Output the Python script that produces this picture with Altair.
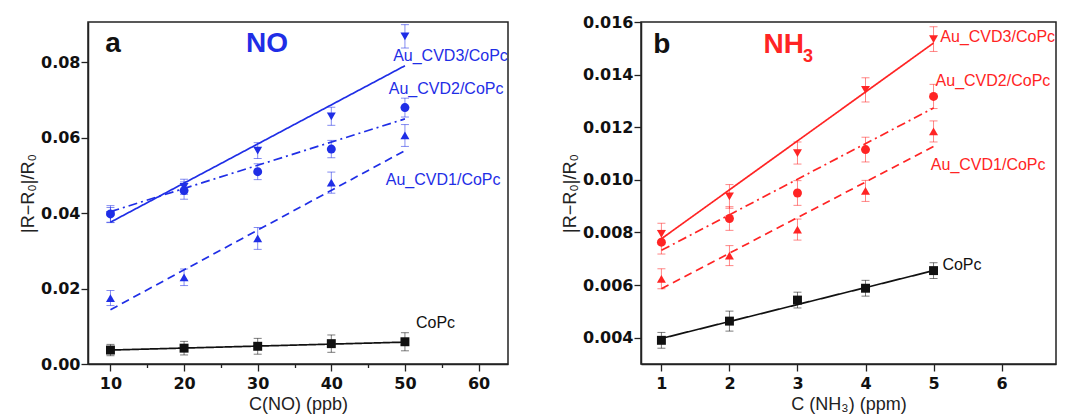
import altair as alt
import pandas as pd

SERIES = ["CoPc", "Au_CVD1/CoPc", "Au_CVD2/CoPc", "Au_CVD3/CoPc"]
SHAPES = ["square", "triangle-up", "circle", "triangle-down"]
DASHES = [[1, 0], [8, 5], [9, 4, 2, 4], [1, 0]]

# ---------------- panel a : NO ----------------
no_x = [10, 20, 30, 40, 50]
no_copc = [0.0037, 0.0042, 0.0047, 0.0054, 0.0059]
no_cvd1 = [0.0175, 0.0230, 0.0333, 0.0481, 0.0606]
no_cvd2 = [0.0398, 0.0460, 0.0510, 0.0570, 0.0680]
no_cvd3 = [0.0395, 0.0470, 0.0566, 0.0657, 0.0869]
no_copc_err = [0.0015, 0.0018, 0.0021, 0.0023, 0.0024]
no_cvd1_err = [0.0020, 0.0022, 0.0029, 0.0028, 0.0029]
no_cvd2_err = [0.0022, 0.0023, 0.0021, 0.0023, 0.0025]
no_cvd3_err = [0.0020, 0.0020, 0.0021, 0.0024, 0.0031]
no_fit_x = [10, 50]
no_fit_copc = [0.0037, 0.0058]
no_fit_cvd1 = [0.0144, 0.0566]
no_fit_cvd2 = [0.0404, 0.0650]
no_fit_cvd3 = [0.0376, 0.0791]
no_label_x = [51.5, 47.4, 47.8, 48.4]
no_label_y = [0.0110, 0.0489, 0.0728, 0.0816]
no_x_ticks = [10, 15, 20, 25, 30, 35, 40, 45, 50, 55, 60]
no_y_ticks = [0.0, 0.01, 0.02, 0.03, 0.04, 0.05, 0.06, 0.07, 0.08, 0.09]

# ---------------- panel b : NH3 ----------------
nh3_x = [1, 2, 3, 4, 5]
nh3_copc = [0.00390, 0.00463, 0.00543, 0.00588, 0.00655]
nh3_cvd1 = [0.00624, 0.00712, 0.00811, 0.00958, 0.01184]
nh3_cvd2 = [0.00763, 0.00853, 0.00950, 0.01115, 0.01317]
nh3_cvd3 = [0.00795, 0.00937, 0.01102, 0.01342, 0.01535]
nh3_copc_err = [0.00030, 0.00038, 0.00030, 0.00030, 0.00030]
nh3_cvd1_err = [0.00038, 0.00038, 0.00040, 0.00040, 0.00040]
nh3_cvd2_err = [0.00045, 0.00045, 0.00047, 0.00047, 0.00046]
nh3_cvd3_err = [0.00040, 0.00045, 0.00042, 0.00046, 0.00047]
nh3_fit_x = [1, 5]
nh3_fit_copc = [0.00397, 0.00655]
nh3_fit_cvd1 = [0.00586, 0.01127]
nh3_fit_cvd2 = [0.00732, 0.01273]
nh3_fit_cvd3 = [0.00776, 0.01520]
nh3_label_x = [5.13, 4.96, 5.03, 5.10]
nh3_label_y = [0.00677, 0.01055, 0.01374, 0.01544]
nh3_x_ticks = [1, 1.5, 2, 2.5, 3, 3.5, 4, 4.5, 5, 5.5, 6, 6.5]
nh3_y_ticks = [0.004, 0.005, 0.006, 0.007, 0.008, 0.009, 0.010,
               0.011, 0.012, 0.013, 0.014, 0.015, 0.016]

BLUE = "#1f2ee6"
RED = "#ff2424"
BLACK = "#111111"


def build(xs, ys, errs, fit_x, fits, lab_x, lab_y):
    pts, fl, lb = [], [], []
    for s, yv, ev, fv, lx, ly in zip(SERIES, ys, errs, fits, lab_x, lab_y):
        for x, y, e in zip(xs, yv, ev):
            pts.append({"series": s, "x": x, "y": y, "lo": y - e, "hi": y + e})
        for x, y in zip(fit_x, fv):
            fl.append({"series": s, "x": x, "y": y})
        lb.append({"series": s, "x": lx, "y": ly, "text": s})
    return pd.DataFrame(pts), pd.DataFrame(fl), pd.DataFrame(lb)


def panel(xs, ys, errs, fit_x, fits, lab_x, lab_y, color, xdom, ydom,
          xticks, yticks, xmajor, ymajor, xfmt, yfmt, xtitle, letter, letter_xy,
          gas, gas_xy, sub, sub_xy):
    dpts, dfit, dlab = build(xs, ys, errs, fit_x, fits, lab_x, lab_y)
    cscale = alt.Scale(domain=SERIES, range=[BLACK, color, color, color])
    xs_ = alt.Scale(domain=xdom, nice=False, zero=False)
    ys_ = alt.Scale(domain=ydom, nice=False, zero=False)
    xaxis = alt.Axis(values=xticks, title=xtitle, format=xfmt, labelOverlap=False,
                     tickSize={"condition": {"test": xmajor, "value": 7}, "value": 3.5},
                     labelExpr=f"({xmajor}) ? datum.label : ''",
                     labelPadding=4, titlePadding=4, grid=False)
    yaxis = alt.Axis(values=yticks, title="|R−R₀|/R₀", format=yfmt, labelOverlap=False,
                     tickSize={"condition": {"test": ymajor, "value": 7}, "value": 3.5},
                     labelExpr=f"({ymajor}) ? datum.label : ''",
                     labelPadding=1, titlePadding=3, grid=False)
    X = alt.X("x:Q", scale=xs_, axis=xaxis)
    Y = alt.Y("y:Q", scale=ys_, axis=yaxis)
    C = alt.Color("series:N", scale=cscale, legend=None)

    lines = alt.Chart(dfit).mark_line(strokeWidth=1.7).encode(
        x=X, y=Y, color=C,
        strokeDash=alt.StrokeDash("series:N", scale=alt.Scale(domain=SERIES, range=DASHES), legend=None),
        detail="series:N")
    bars = alt.Chart(dpts).mark_rule(strokeWidth=1, opacity=0.55).encode(
        x=alt.X("x:Q", scale=xs_), y=alt.Y("lo:Q", scale=ys_), y2="hi:Q", color=C)
    cap_lo = alt.Chart(dpts).mark_tick(orient="horizontal", size=8, thickness=1, opacity=0.55).encode(
        x=alt.X("x:Q", scale=xs_), y=alt.Y("lo:Q", scale=ys_), color=C)
    cap_hi = alt.Chart(dpts).mark_tick(orient="horizontal", size=8, thickness=1, opacity=0.55).encode(
        x=alt.X("x:Q", scale=xs_), y=alt.Y("hi:Q", scale=ys_), color=C)
    points = alt.Chart(dpts).mark_point(filled=True, size=80, opacity=1).encode(
        x=alt.X("x:Q", scale=xs_), y=alt.Y("y:Q", scale=ys_), color=C,
        shape=alt.Shape("series:N", scale=alt.Scale(domain=SERIES, range=SHAPES), legend=None))
    labels = alt.Chart(dlab).mark_text(align="left", baseline="middle", fontSize=16,
                                       font="Liberation Sans").encode(
        x=alt.X("x:Q", scale=xs_), y=alt.Y("y:Q", scale=ys_), text="text:N", color=C)
    tdf = pd.DataFrame([{"x": letter_xy[0], "y": letter_xy[1], "t": letter}])
    letter_m = alt.Chart(tdf).mark_text(align="left", baseline="middle", fontSize=28,
                                        fontWeight="bold", font="Liberation Sans",
                                        color=BLACK).encode(
        x=alt.X("x:Q", scale=xs_), y=alt.Y("y:Q", scale=ys_), text="t:N")
    gdf = pd.DataFrame([{"x": gas_xy[0], "y": gas_xy[1], "t": gas}])
    gas_m = alt.Chart(gdf).mark_text(align="left", baseline="middle", fontSize=28,
                                     fontWeight="bold", font="Liberation Sans",
                                     color=color).encode(
        x=alt.X("x:Q", scale=xs_), y=alt.Y("y:Q", scale=ys_), text="t:N")
    layers = [lines, bars, cap_lo, cap_hi, points, labels, letter_m, gas_m]
    if sub:
        sdf = pd.DataFrame([{"x": sub_xy[0], "y": sub_xy[1], "t": sub}])
        layers.append(alt.Chart(sdf).mark_text(align="left", baseline="middle", fontSize=18,
                                               fontWeight="bold", font="Liberation Sans",
                                               color=color).encode(
            x=alt.X("x:Q", scale=xs_), y=alt.Y("y:Q", scale=ys_), text="t:N"))
    return alt.layer(*layers)


pa = panel(no_x, [no_copc, no_cvd1, no_cvd2, no_cvd3],
           [no_copc_err, no_cvd1_err, no_cvd2_err, no_cvd3_err],
           no_fit_x, [no_fit_copc, no_fit_cvd1, no_fit_cvd2, no_fit_cvd3],
           no_label_x, no_label_y, BLUE, [6.95, 64.0], [0.0, 0.0907],
           no_x_ticks, no_y_ticks, "datum.value % 10 === 0",
           "abs(datum.value * 50 - round(datum.value * 50)) < 0.001", "d", ".2f",
           "C(NO) (ppb)", "a", (9.3, 0.0848), "NO", (28.4, 0.0848), None, None
           ).properties(width=420, height=342)

pb = panel(nh3_x, [nh3_copc, nh3_cvd1, nh3_cvd2, nh3_cvd3],
           [nh3_copc_err, nh3_cvd1_err, nh3_cvd2_err, nh3_cvd3_err],
           nh3_fit_x, [nh3_fit_copc, nh3_fit_cvd1, nh3_fit_cvd2, nh3_fit_cvd3],
           nh3_label_x, nh3_label_y, RED, [0.7, 6.8], [0.003, 0.016],
           nh3_x_ticks, nh3_y_ticks, "abs(datum.value - round(datum.value)) < 0.001",
           "abs(datum.value * 500 - round(datum.value * 500)) < 0.001", "d", ".3f",
           "C (NH₃) (ppm)", "b", (0.88, 0.01514), "NH", (2.50, 0.01514), "3", (3.08, 0.01466)
           ).properties(width=415, height=342)

chart = alt.hconcat(pa, pb, spacing=51).resolve_scale(
    color="independent", shape="independent", strokeDash="independent"
).properties(
    padding={"left": 10, "top": 5, "right": 0, "bottom": 0}
).configure_view(stroke="#222222", strokeWidth=1.5).configure_axis(
    domainColor="#222222", domainWidth=1.5, tickColor="#222222", tickWidth=1.3,
    labelFont="DejaVu Sans", labelFontWeight="bold", labelFontSize=16, labelColor="#111111",
    titleFont="Liberation Sans", titleFontWeight="normal", titleFontSize=18, titleColor="#222222",
    grid=False
)

chart.save("out.html", embed_options={"renderer": "svg", "actions": False})
